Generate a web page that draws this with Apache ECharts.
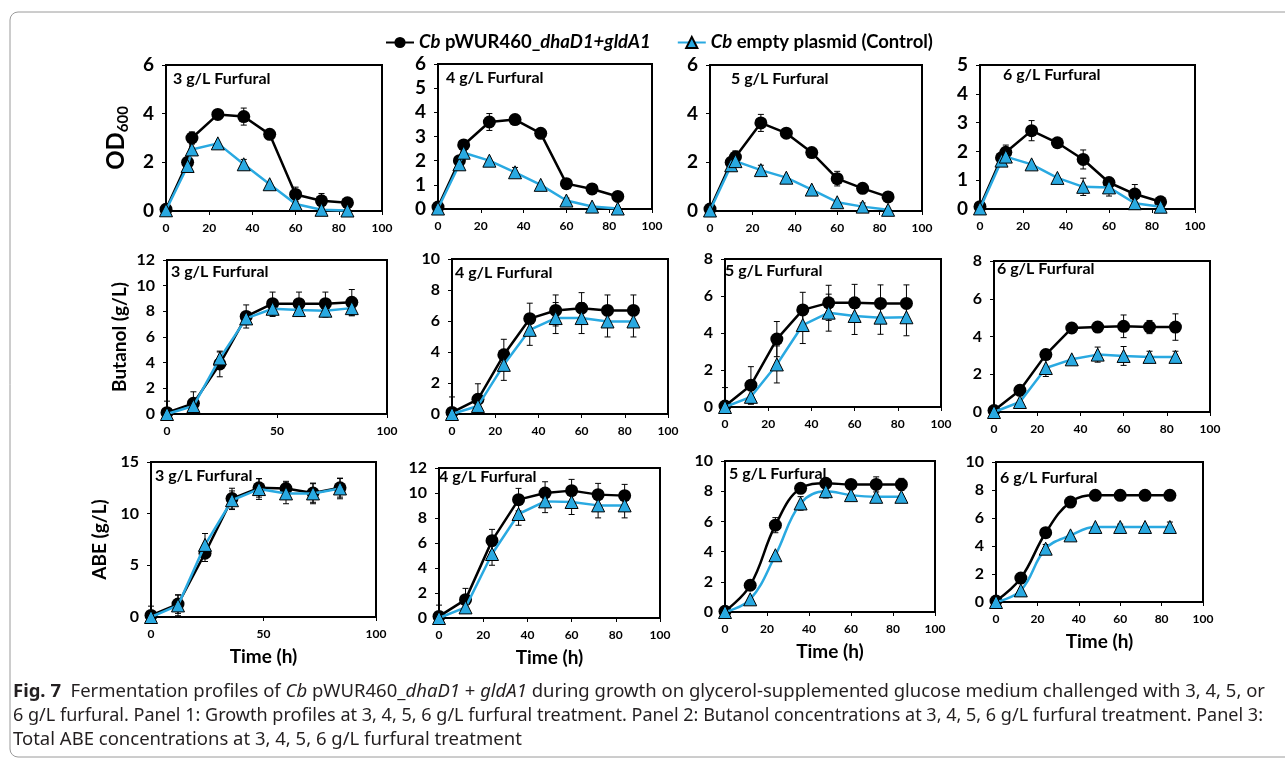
<!DOCTYPE html>
<html>
<head>
<meta charset="utf-8">
<script src="https://cdn.jsdelivr.net/npm/echarts@6/dist/echarts.min.js"></script>
<style>
  html, body { margin: 0; padding: 0; background: #fff; }
  #chart { width: 1285px; height: 763px; }
</style>
</head>
<body>
<div id="chart"></div>
<script>
// Fig. 7 - fermentation profiles, 3 rows x 4 furfural levels

const TIME_OD = [0, 10, 12, 24, 36, 48, 60, 72, 84];
const TIME = [0, 12, 24, 36, 48, 60, 72, 84];

// Panel 1: OD600
const od3Mut = [0.07, 2.0, 3.0, 3.97, 3.88, 3.15, 0.68, 0.42, 0.34];
const od3MutErr = [0, 0, 0.25, 0, 0.35, 0, 0.3, 0.3, 0];
const od3Ctl = [0.03, 1.85, 2.53, 2.78, 1.92, 1.1, 0.29, 0.05, 0.02];
const od3CtlErr = [0, 0, 0, 0, 0.2, 0, 0, 0, 0];

const od4Mut = [0.08, 2.0, 2.65, 3.6, 3.7, 3.13, 1.05, 0.83, 0.52];
const od4MutErr = [0, 0, 0.15, 0.35, 0, 0, 0, 0.2, 0];
const od4Ctl = [0.02, 1.85, 2.33, 2.0, 1.52, 1.0, 0.35, 0.1, 0.02];
const od4CtlErr = [0, 0, 0, 0, 0.2, 0, 0.1, 0, 0];

const od5Mut = [0.08, 2.0, 2.22, 3.62, 3.2, 2.4, 1.33, 0.93, 0.58];
const od5MutErr = [0, 0, 0.25, 0.35, 0, 0, 0.3, 0, 0];
const od5Ctl = [0.02, 1.88, 2.05, 1.68, 1.37, 0.88, 0.36, 0.18, 0.05];
const od5CtlErr = [0, 0, 0, 0.2, 0, 0, 0, 0.15, 0];

const od6Mut = [0.08, 1.78, 1.97, 2.72, 2.3, 1.72, 0.92, 0.52, 0.25];
const od6MutErr = [0, 0, 0.25, 0.35, 0, 0.33, 0, 0.33, 0];
const od6Ctl = [0.02, 1.68, 1.82, 1.55, 1.08, 0.77, 0.75, 0.2, 0.08];
const od6CtlErr = [0, 0, 0, 0, 0, 0.3, 0.3, 0, 0];

// Panel 2: butanol (g/L)
const bu3Mut = [0.1, 0.83, 3.9, 7.6, 8.6, 8.6, 8.6, 8.7];
const bu3MutErr = [0.9, 0.9, 1.0, 0.9, 0.9, 0.9, 0.9, 1.0];
const bu3Ctl = [0, 0.62, 4.33, 7.45, 8.2, 8.1, 8.05, 8.25];
const bu3CtlErr = [0, 0, 0.5, 0.5, 0.6, 0.5, 0.5, 0.6];

const bu4Mut = [0.1, 0.95, 3.82, 6.15, 6.68, 6.83, 6.68, 6.68];
const bu4MutErr = [1.0, 1.0, 1.0, 1.0, 1.0, 1.0, 1.0, 1.0];
const bu4Ctl = [0, 0.52, 3.17, 5.43, 6.19, 6.19, 5.97, 5.97];
const bu4CtlErr = [0, 0, 1.0, 1.0, 1.0, 1.0, 1.0, 1.0];

const bu5Mut = [0.05, 1.18, 3.67, 5.25, 5.63, 5.63, 5.6, 5.6];
const bu5MutErr = [1.0, 1.0, 0.95, 0.95, 0.95, 1.0, 1.0, 1.0];
const bu5Ctl = [0, 0.55, 2.3, 4.43, 5.1, 4.92, 4.83, 4.85];
const bu5CtlErr = [0, 0.4, 1.0, 1.0, 1.0, 1.0, 0.9, 1.0];

const bu6Mut = [0.08, 1.15, 3.04, 4.45, 4.5, 4.54, 4.5, 4.5];
const bu6MutErr = [0, 0, 0, 0, 0, 0.6, 0.35, 0.7];
const bu6Ctl = [0, 0.53, 2.33, 2.79, 3.04, 2.97, 2.92, 2.92];
const bu6CtlErr = [0, 0, 0.45, 0, 0.4, 0.5, 0.3, 0.3];

// Panel 3: total ABE (g/L)
const abe3Mut = [0.15, 1.25, 6.17, 11.46, 12.5, 12.43, 12.0, 12.5];
const abe3MutErr = [0.9, 0.9, 0.8, 1.0, 0.9, 0.7, 0.9, 0.9];
const abe3Ctl = [0, 1.12, 6.98, 11.3, 12.38, 11.96, 11.96, 12.44];
const abe3CtlErr = [0, 1.0, 1.1, 0.9, 1.0, 1.0, 1.0, 1.0];

const abe4Mut = [0.13, 1.47, 6.19, 9.47, 10.0, 10.19, 9.87, 9.79];
const abe4MutErr = [0.9, 0.9, 0.9, 0.9, 0.9, 0.9, 0.9, 0.9];
const abe4Ctl = [0, 0.85, 5.12, 8.32, 9.33, 9.28, 9.01, 9.01];
const abe4CtlErr = [0, 0, 0.9, 0.9, 0.9, 1.0, 1.0, 1.0];

const abe5Mut = [0.05, 1.77, 5.75, 8.19, 8.52, 8.45, 8.45, 8.45];
const abe5MutErr = [0, 0, 0.5, 0, 0.3, 0, 0.5, 0.4];
const abe5Ctl = [0, 0.84, 3.76, 7.19, 8.0, 7.74, 7.63, 7.63];
const abe5CtlErr = [0, 0, 0, 0.45, 0.45, 0, 0, 0];

const abe6Mut = [0.07, 1.71, 4.95, 7.14, 7.62, 7.62, 7.62, 7.62];
const abe6MutErr = [0, 0, 0, 0, 0, 0, 0, 0.3];
const abe6Ctl = [0, 0.83, 3.81, 4.76, 5.36, 5.36, 5.36, 5.36];
const abe6CtlErr = [0, 0, 0.3, 0, 0, 0.2, 0, 0.35];

const PANEL_LABELS = ['3 g/L Furfural', '4 g/L Furfural', '5 g/L Furfural', '6 g/L Furfural'];
const Y_MAX = [6, 6, 6, 5, 12, 10, 8, 8, 15, 12, 10, 10];
const Y_STEP = [2, 1, 2, 1, 2, 2, 2, 2, 5, 2, 2, 2];
const X_STEP = [20, 20, 20, 20, 50, 20, 20, 20, 50, 20, 20, 20];
const ROW_TITLES = ['{a|OD}{b|600}', 'Butanol (g/L)', 'ABE (g/L)'];
const X_TITLE = 'Time (h)';
const MUT = 'Cb pWUR460_dhaD1+gldA1';
const CTL = 'Cb empty plasmid (Control)';

const PANELS = [
    [TIME_OD, od3Mut, od3MutErr, od3Ctl, od3CtlErr],
    [TIME_OD, od4Mut, od4MutErr, od4Ctl, od4CtlErr],
    [TIME_OD, od5Mut, od5MutErr, od5Ctl, od5CtlErr],
    [TIME_OD, od6Mut, od6MutErr, od6Ctl, od6CtlErr],
    [TIME, bu3Mut, bu3MutErr, bu3Ctl, bu3CtlErr],
    [TIME, bu4Mut, bu4MutErr, bu4Ctl, bu4CtlErr],
    [TIME, bu5Mut, bu5MutErr, bu5Ctl, bu5CtlErr],
    [TIME, bu6Mut, bu6MutErr, bu6Ctl, bu6CtlErr],
    [TIME, abe3Mut, abe3MutErr, abe3Ctl, abe3CtlErr],
    [TIME, abe4Mut, abe4MutErr, abe4Ctl, abe4CtlErr],
    [TIME, abe5Mut, abe5MutErr, abe5Ctl, abe5CtlErr],
    [TIME, abe6Mut, abe6MutErr, abe6Ctl, abe6CtlErr]
];

// layout (px): left, top, width, height of each plot box
const GRIDS = [
    [166, 65, 216, 146], [438, 64, 214, 145], [710, 65, 212, 146], [980, 65, 215, 144],
    [167, 260, 220, 154], [452, 259, 216, 155], [725, 259, 216, 148], [994, 261, 216, 151],
    [151, 462, 225, 155], [439, 468, 221, 150], [725, 461, 210, 151], [996, 462, 207, 140]
];
const LABEL_POS = [
    [173, 81], [446, 80], [731, 81], [1003, 77],
    [171, 274], [455, 275], [725, 273], [997, 271],
    [155, 478], [439, 479], [729, 476], [1000, 480]
];
const Y_NAME_GAP = [35, 38, 42];
const Y_LABEL_SIZE = [19, 16, 16];

const FONT = 'Lato, "Open Sans", sans-serif';
const BLUE = '#29A9E1';

const CAPTION = [
    [['b', 'Fig. 7'], ['n', '  Fermentation profiles of '], ['i', 'Cb'], ['n', ' pWUR460_'], ['i', 'dhaD1'],
     ['n', ' + '], ['i', 'gldA1'], ['n', ' during growth on glycerol-supplemented glucose medium challenged with 3, 4, 5, or']],
    [['n', '6 g/L furfural. Panel 1: Growth profiles at 3, 4, 5, 6 g/L furfural treatment. Panel 2: Butanol concentrations at 3, 4, 5, 6 g/L furfural treatment. Panel 3:']],
    [['n', 'Total ABE concentrations at 3, 4, 5, 6 g/L furfural treatment']]
];
const CAP_FONT = '"Noto Sans", sans-serif';
const CAP_SIZE = 18;
const CAP_X = 13;
const CAP_WIDTH = [1252, 1250];
const CAP_Y = [692, 716, 740];

function errorBars(params, api) {
    const x = api.value(0), y = api.value(1), e = api.value(2);
    if (!e) return null;
    const top = api.coord([x, y + e]);
    const bot = api.coord([x, Math.max(0, y - e)]);
    const w = 3;
    const st = { stroke: '#000', lineWidth: 1 };
    return {
        type: 'group',
        children: [
            { type: 'line', shape: { x1: top[0], y1: top[1], x2: bot[0], y2: bot[1] }, style: st },
            { type: 'line', shape: { x1: top[0] - w, y1: top[1], x2: top[0] + w, y2: top[1] }, style: st },
            { type: 'line', shape: { x1: bot[0] - w, y1: bot[1], x2: bot[0] + w, y2: bot[1] }, style: st }
        ]
    };
}

const grid = [], xAxis = [], yAxis = [], series = [], graphic = [];

PANELS.forEach(([t, mut, mutErr, ctl, ctlErr], i) => {
    const row = Math.floor(i / 4), col = i % 4;
    const g = GRIDS[i];
    grid.push({ left: g[0], top: g[1], width: g[2], height: g[3], show: true,
        borderColor: '#000', borderWidth: 2, backgroundColor: 'transparent' });
    xAxis.push({
        gridIndex: i, type: 'value', min: 0, max: 100, interval: X_STEP[i],
        name: row === 2 ? X_TITLE : '', nameLocation: 'middle', nameGap: 30,
        nameTextStyle: { fontFamily: FONT, fontWeight: 'bold', fontSize: 19, color: '#000' },
        axisLine: { lineStyle: { color: '#000', width: 1.5 } },
        axisTick: { show: true, length: 4, lineStyle: { color: '#000' } },
        splitLine: { show: false },
        axisLabel: { fontFamily: FONT, fontWeight: 'bold', fontSize: 12, color: '#000', margin: 11 }
    });
    yAxis.push({
        gridIndex: i, type: 'value', min: 0, max: Y_MAX[i], interval: Y_STEP[i],
        name: col === 0 ? ROW_TITLES[row] : '', nameLocation: 'middle', nameRotate: 90,
        nameGap: Y_NAME_GAP[row],
        nameTextStyle: {
            fontFamily: FONT, fontWeight: 'bold', fontSize: 19, color: '#000',
            rich: {
                a: { fontFamily: FONT, fontWeight: 'bold', fontSize: 24, lineHeight: 30, color: '#000' },
                b: { fontFamily: FONT, fontWeight: 'bold', fontSize: 15, verticalAlign: 'bottom', color: '#000' }
            }
        },
        axisLine: { show: true, lineStyle: { color: '#000', width: 1.5 } },
        axisTick: { show: true, length: 4, lineStyle: { color: '#000' } },
        splitLine: { show: false },
        axisLabel: { fontFamily: FONT, fontWeight: 'bold', fontSize: Y_LABEL_SIZE[row], color: '#000', margin: 12 }
    });

    const smooth = i >= 10 ? 0.4 : false;
    series.push({
        name: MUT, type: 'line', xAxisIndex: i, yAxisIndex: i, smooth: smooth,
        data: t.map((x, k) => [x, mut[k]]),
        symbol: 'circle', symbolSize: 13,
        lineStyle: { color: '#000', width: 2.5 },
        itemStyle: { color: '#000' }, z: 4
    });
    series.push({
        name: CTL, type: 'line', xAxisIndex: i, yAxisIndex: i, smooth: smooth,
        data: t.map((x, k) => [x, ctl[k]]),
        symbol: 'triangle', symbolSize: 13,
        lineStyle: { color: BLUE, width: 2.5 },
        itemStyle: { color: BLUE, borderColor: '#000', borderWidth: 1 }, z: 5
    });
    [[mut, mutErr], [ctl, ctlErr]].forEach(([v, e]) => {
        series.push({
            type: 'custom', xAxisIndex: i, yAxisIndex: i, z: 3, silent: true,
            renderItem: errorBars,
            encode: { x: 0, y: 1 },
            data: t.map((x, k) => [x, v[k], e[k]])
        });
    });

    graphic.push({
        type: 'text', left: LABEL_POS[i][0], top: LABEL_POS[i][1] - 10,
        style: { text: PANEL_LABELS[col], fontFamily: FONT, fontWeight: 'bold', fontSize: 16, fill: '#000' }
    });
});

// caption: condensed look by measuring each line and squeezing horizontally
const ctx = document.createElement('canvas').getContext('2d');
function segFont(kind) {
    return (kind === 'i' ? 'italic ' : '') + (kind === 'b' ? 'bold ' : '') + CAP_SIZE + 'px ' + CAP_FONT;
}
function lineWidth(line) {
    return line.reduce((s, [k, txt]) => { ctx.font = segFont(k); return s + ctx.measureText(txt).width; }, 0);
}
const capScale = [CAP_WIDTH[0] / lineWidth(CAPTION[0]), CAP_WIDTH[1] / lineWidth(CAPTION[1])];
capScale.push(capScale[0]);
const capRich = {
    b: { fontFamily: CAP_FONT, fontWeight: 'bold', fontSize: CAP_SIZE, fill: '#231F20' },
    i: { fontFamily: CAP_FONT, fontStyle: 'italic', fontSize: CAP_SIZE, fill: '#231F20' },
    n: { fontFamily: CAP_FONT, fontSize: CAP_SIZE, fill: '#231F20' }
};
CAPTION.forEach((line, j) => {
    graphic.push({
        type: 'text', x: CAP_X, y: CAP_Y[j], scaleX: capScale[j],
        style: {
            text: line.map(([k, txt]) => '{' + k + '|' + txt + '}').join(''),
            rich: capRich, fontFamily: CAP_FONT, fontSize: CAP_SIZE, fill: '#231F20',
            verticalAlign: 'middle', align: 'left'
        }
    });
});

graphic.push({
    type: 'rect', z: -10, silent: true,
    shape: { x: 10, y: 12, width: 1300, height: 745, r: 8 },
    style: { fill: 'none', stroke: '#9a9a9a', lineWidth: 1 }
});

const chart = echarts.init(document.getElementById('chart'), null, { renderer: 'canvas' });
chart.setOption({
    animation: false,
    backgroundColor: '#fff',
    legend: {
        data: [MUT, CTL], top: 28, left: 380, itemGap: 26, itemWidth: 28, itemHeight: 14,
        formatter: n => n === MUT ? '{i|Cb} pWUR460_{i|dhaD1+gldA1}' : '{i|Cb} empty plasmid (Control)',
        textStyle: {
            fontFamily: FONT, fontWeight: 'bold', fontSize: 18.5, color: '#000',
            rich: { i: { fontFamily: FONT, fontWeight: 'bold', fontStyle: 'italic', fontSize: 18.5, color: '#000' } }
        }
    },
    grid, xAxis, yAxis, series, graphic
});
</script>
</body>
</html>
